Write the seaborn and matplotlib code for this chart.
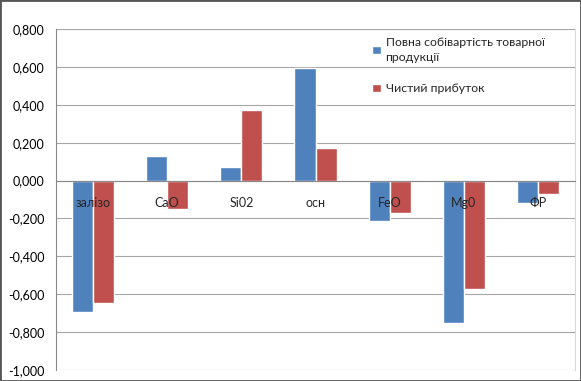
import numpy as np
import pandas as pd
import matplotlib
matplotlib.use('Agg')
import matplotlib.pyplot as plt
import seaborn as sns
from matplotlib.ticker import FuncFormatter, MultipleLocator, FixedLocator

categories = ['залізо', 'CaO', 'Si02', 'осн', 'FeO', 'Mg0', 'ФР']
series_names = ['Повна собівартість товарної\nпродукції', 'Чистий прибуток']
cost = [-0.695, 0.13, 0.074, 0.593, -0.211, -0.753, -0.116]
profit = [-0.647, -0.15, 0.373, 0.171, -0.172, -0.573, -0.072]

df = pd.DataFrame({
    'cat': categories * 2,
    'series': [series_names[0]] * len(categories) + [series_names[1]] * len(categories),
    'val': cost + profit,
})

sns.set_style('white')
plt.rcParams['font.family'] = ['Lato', 'DejaVu Sans']

fig = plt.figure(figsize=(5.81, 3.81), dpi=100)
ax = fig.add_axes([56 / 581, 11 / 381, 519 / 581, 341 / 381])

sns.barplot(data=df, x='cat', y='val', hue='series', order=categories,
            palette=['#4F81BD', '#C0504D'], width=0.57, saturation=1,
            ax=ax, zorder=3)

ax.set_ylim(-1.0, 0.8)
ax.set_xlim(-0.5, len(categories) - 0.5)
ax.yaxis.set_major_locator(MultipleLocator(0.2))
ax.yaxis.set_major_formatter(FuncFormatter(lambda v, p: f'{v:.3f}'.replace('.', ',')))
ax.grid(axis='y', color='#a6a6a6', linewidth=0.8)
ax.yaxis.set_zorder(0.5)
ax.tick_params(axis='y', labelsize=9, length=2.2, color='#888888', labelcolor='black', pad=6)

# category axis drawn through zero, labels on top of the bars
ax.spines['bottom'].set_position(('data', 0))
ax.spines['bottom'].set_color('#888888')
ax.spines['bottom'].set_zorder(4)
ax.spines['top'].set_visible(False)
ax.spines['left'].set_color('#888888')
ax.spines['right'].set_color('#d9d9d9')
ax.xaxis.set_zorder(5)
ax.xaxis.set_minor_locator(FixedLocator(np.arange(0.5, len(categories) - 0.5, 1)))
ax.tick_params(axis='x', which='major', length=0, labelsize=9, pad=12)
ax.tick_params(axis='x', which='minor', length=3, color='#888888', direction='out')
ax.set_xlabel('')
ax.set_ylabel('')

leg = ax.legend(loc='upper left', bbox_to_anchor=(0.588, 1.01), frameon=False,
                fontsize=8.8, handlelength=0.7, handleheight=0.7,
                handletextpad=0.4, labelspacing=1.7)
for t in leg.get_texts():
    t.set_linespacing(1.45)

fig.patches.append(plt.Rectangle((0, 0), 1, 1, transform=fig.transFigure,
                                 fill=False, edgecolor='#555555', linewidth=2))

fig.savefig('out.png', dpi=100)
